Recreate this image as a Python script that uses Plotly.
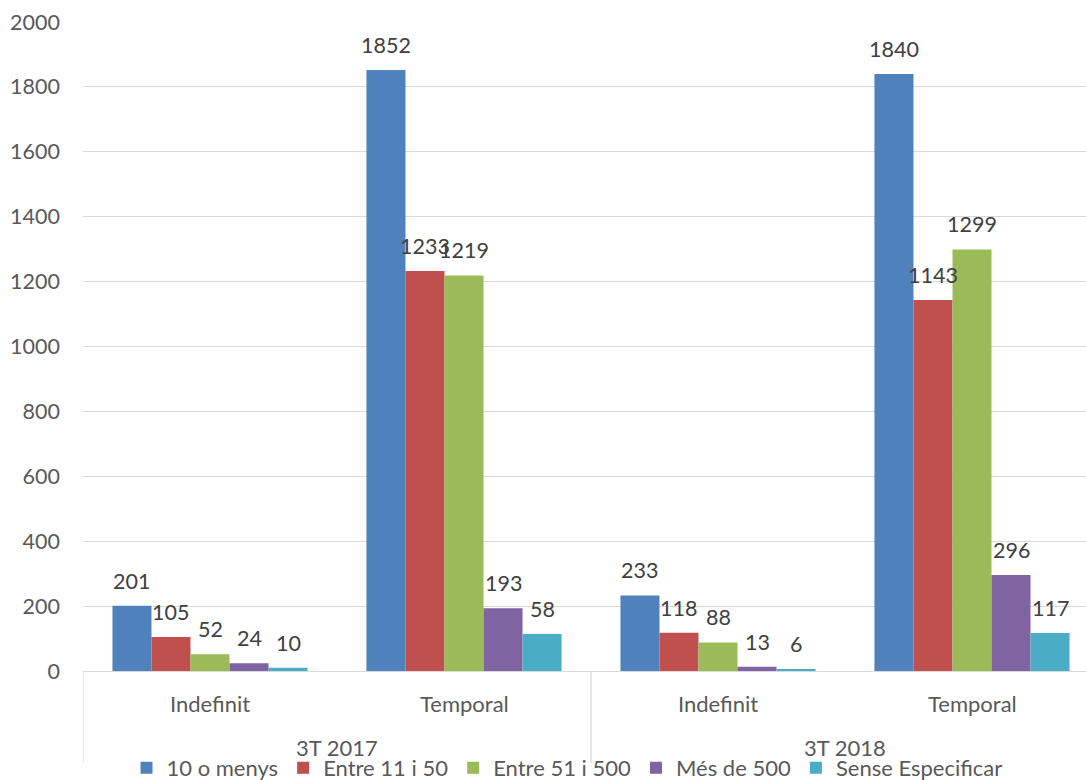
import plotly.graph_objects as go

# ---- data ----
periods = ["3T 2017", "3T 2018"]
contract_types = ["Indefinit", "Temporal", "Indefinit", "Temporal"]
series_names = ["10 o menys", "Entre 11 i 50", "Entre 51 i 500", "Més de 500", "Sense Especificar"]
series_values = [
    [201, 1852, 233, 1840],   # 10 o menys
    [105, 1233, 118, 1143],   # Entre 11 i 50
    [52, 1219, 88, 1299],     # Entre 51 i 500
    [24, 193, 13, 296],       # Més de 500
    [10, 114, 6, 117],        # Sense Especificar (bar heights)
]
series_labels = [
    ["201", "1852", "233", "1840"],
    ["105", "1233", "118", "1143"],
    ["52", "1219", "88", "1299"],
    ["24", "193", "13", "296"],
    ["10", "58", "6", "117"],
]
y_ticks = [0, 200, 400, 600, 800, 1000, 1200, 1400, 1600, 1800, 2000]

colors = ["#4F81BD", "#C0504D", "#9BBB59", "#8064A2", "#4BACC6"]
FONT = "Lato"
AXIS_COL = "#595959"
LABEL_COL = "#404040"
GRID = "#d9d9d9"

W, H = 1086, 780
ML, MR, MT, MB = 83, 0, 22, 109
plot_w = W - ML - MR
plot_h = H - MT - MB
unit_px = 254.0
x_range = [-0.5, -0.5 + plot_w / unit_px]

bargap = 0.232
n = len(series_names)
bar_w = (1 - bargap) / n

x_idx = list(range(len(contract_types)))

fig = go.Figure()
for i, name in enumerate(series_names):
    fig.add_trace(go.Bar(
        x=x_idx, y=series_values[i], name=name,
        marker=dict(color=colors[i], line=dict(width=0)),
        hoverinfo="skip",
    ))

annotations = []
# data labels
for i in range(n):
    for j, xv in enumerate(x_idx):
        annotations.append(dict(
            x=xv + (i - (n - 1) / 2) * bar_w, y=series_values[i][j],
            xref="x", yref="y", text=series_labels[i][j], showarrow=False,
            yshift=25, yanchor="middle", xanchor="center",
            font=dict(family=FONT, size=21.5, color=LABEL_COL),
        ))


def py(pix):
    # pixel y (from top) -> paper y
    return (H - MB - pix) / plot_h


# inner category labels
for j, lab in enumerate(contract_types):
    annotations.append(dict(
        x=x_idx[j], y=py(703), xref="x", yref="paper", text=lab, showarrow=False,
        yanchor="middle", xanchor="center",
        font=dict(family=FONT, size=22, color=AXIS_COL),
    ))
# outer period labels
for k, per in enumerate(periods):
    annotations.append(dict(
        x=2 * k + 0.5, y=py(748), xref="x", yref="paper", text=per, showarrow=False,
        yanchor="middle", xanchor="center",
        font=dict(family=FONT, size=22, color=AXIS_COL),
    ))

shapes = []
for k in range(len(periods)):
    shapes.append(dict(
        type="line", xref="x", yref="paper",
        x0=2 * k - 0.5, x1=2 * k - 0.5, y0=0, y1=py(763),
        line=dict(color=GRID, width=1.3),
    ))

fig.update_layout(
    width=W, height=H,
    margin=dict(l=ML, r=MR, t=MT, b=MB, autoexpand=False),
    paper_bgcolor="white", plot_bgcolor="white",
    barmode="group", bargap=bargap, bargroupgap=0,
    font=dict(family=FONT, color=AXIS_COL),
    xaxis=dict(
        range=x_range, showticklabels=False, showgrid=False, zeroline=False,
        showline=True, linecolor=GRID, linewidth=1.3, ticks="", fixedrange=True,
    ),
    yaxis=dict(
        range=[0, 2000], tickvals=y_ticks, showgrid=True, gridcolor=GRID, gridwidth=1.3,
        zeroline=False, showline=False, ticks="", ticklabelstandoff=22,
        tickfont=dict(family=FONT, size=21.5, color=AXIS_COL),
    ),
    legend=dict(
        orientation="h", x=(567 - ML) / plot_w, xanchor="center",
        y=py(768), yanchor="middle", bgcolor="rgba(0,0,0,0)",
        font=dict(family=FONT, size=22, color=AXIS_COL),
        itemclick=False, itemdoubleclick=False, tracegroupgap=0,
    ),
    annotations=annotations,
    shapes=shapes,
    showlegend=True,
)

fig.write_html(
    "out.html",
    config={"displayModeBar": False},
    post_script="document.body.style.margin='0';document.body.style.overflow='hidden';",
)
